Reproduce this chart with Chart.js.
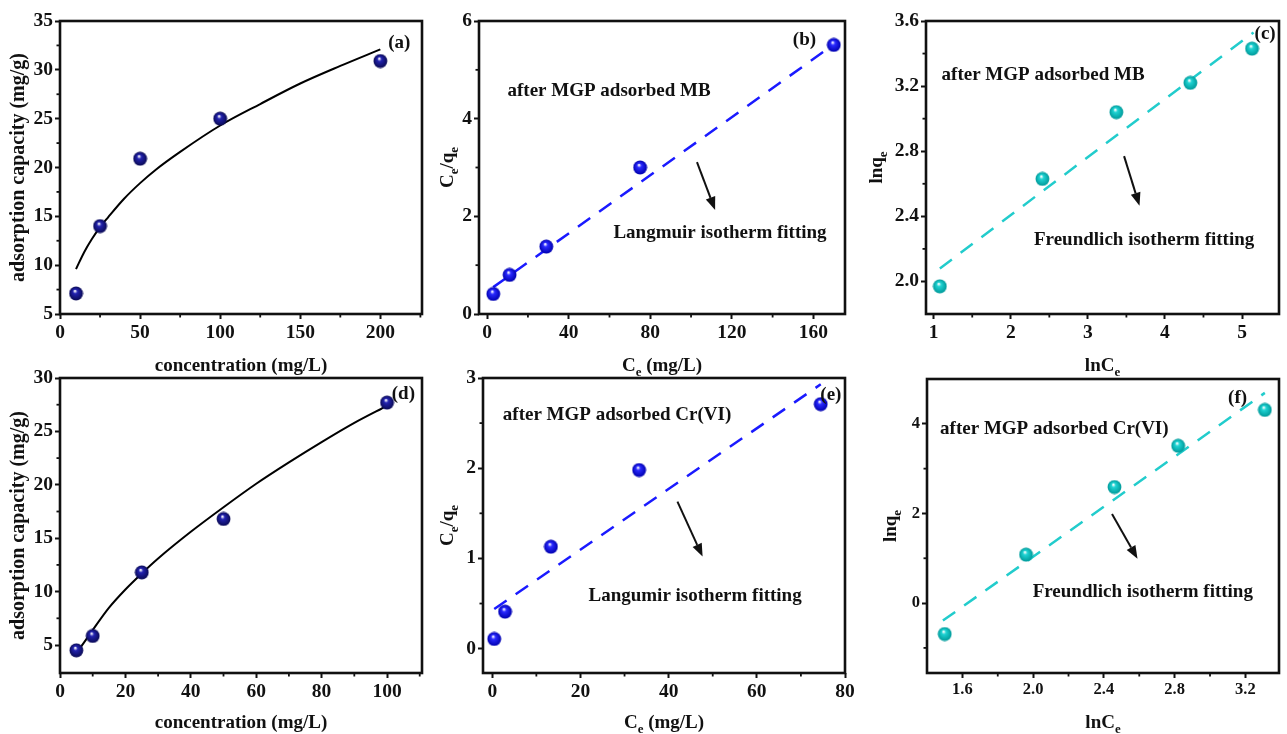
<!DOCTYPE html>
<html>
<head>
<meta charset="utf-8">
<script src="https://cdn.jsdelivr.net/npm/chart.js@4/dist/chart.umd.min.js"></script>
<style>
  html, body { margin: 0; padding: 0; background: #fff; }
  body { width: 1287px; height: 734px; position: relative; overflow: hidden; }
  .panel { position: absolute; }
  canvas { display: block; }
</style>
</head>
<body>
<div class="panel" id="pa"><canvas id="ca"></canvas></div>
<div class="panel" id="pb"><canvas id="cb"></canvas></div>
<div class="panel" id="pc"><canvas id="cc"></canvas></div>
<div class="panel" id="pd"><canvas id="cd"></canvas></div>
<div class="panel" id="pe"><canvas id="ce"></canvas></div>
<div class="panel" id="pf"><canvas id="cf"></canvas></div>
<script>
// ---------------- DATA ----------------
// (a) MB adsorption isotherm
const aConc = [10, 25, 50, 100, 200];
const aQe   = [7.1, 14.0, 20.9, 25.0, 30.9];
const aFitX = [10, 15, 20, 25, 30, 40, 50, 60, 75, 100, 125, 150, 175, 200];
const aFitY = [9.6, 11.3, 12.7, 13.9, 14.9, 16.8, 18.4, 19.8, 21.6, 24.3, 26.5, 28.6, 30.4, 32.1];
const aXTicks = [0, 50, 100, 150, 200];
const aXLabels = ['0', '50', '100', '150', '200'];
const aYTicks = [5, 10, 15, 20, 25, 30, 35];
const aYLabels = ['5', '10', '15', '20', '25', '30', '35'];
const aXMinor = [25, 75, 125, 175, 225];
const aYMinor = [7.5, 12.5, 17.5, 22.5, 27.5, 32.5];

// (b) Langmuir MB
const bCe    = [3, 11, 29, 75, 170];
const bRatio = [0.41, 0.80, 1.38, 3.0, 5.51];
const bFitX  = [3, 170];
const bFitY  = [0.55, 5.52];
const bXTicks = [0, 40, 80, 120, 160];
const bXLabels = ['0', '40', '80', '120', '160'];
const bYTicks = [0, 2, 4, 6];
const bYLabels = ['0', '2', '4', '6'];
const bXMinor = [20, 60, 100, 140];
const bYMinor = [1, 3, 5];

// (c) Freundlich MB
const cLnC = [1.08, 2.41, 3.37, 4.33, 5.13];
const cLnQ = [1.97, 2.63, 3.04, 3.22, 3.43];
const cFitX = [1.08, 5.15];
const cFitY = [2.08, 3.53];
const cXTicks = [1, 2, 3, 4, 5];
const cXLabels = ['1', '2', '3', '4', '5'];
const cYTicks = [2.0, 2.4, 2.8, 3.2, 3.6];
const cYLabels = ['2.0', '2.4', '2.8', '3.2', '3.6'];
const cXMinor = [1.5, 2.5, 3.5, 4.5];
const cYMinor = [2.2, 2.6, 3.0, 3.4];

// (d) Cr(VI) adsorption isotherm
const dConc = [5, 10, 25, 50, 100];
const dQe   = [4.5, 5.85, 11.8, 16.8, 27.7];
const dFitX = [5, 10, 15, 20, 25, 30, 40, 50, 60, 70, 80, 90, 100];
const dFitY = [4.2, 6.4, 8.5, 10.2, 11.7, 13.1, 15.6, 17.9, 20.1, 22.1, 24.0, 25.8, 27.4];
const dXTicks = [0, 20, 40, 60, 80, 100];
const dXLabels = ['0', '20', '40', '60', '80', '100'];
const dYTicks = [5, 10, 15, 20, 25, 30];
const dYLabels = ['5', '10', '15', '20', '25', '30'];
const dXMinor = [10, 30, 50, 70, 90, 110];
const dYMinor = [7.5, 12.5, 17.5, 22.5, 27.5];

// (e) Langmuir Cr(VI)
const eCe    = [0.45, 2.9, 13.3, 33.3, 74.5];
const eRatio = [0.107, 0.41, 1.13, 1.98, 2.71];
const eFitX  = [0.45, 74.5];
const eFitY  = [0.44, 2.93];
const eXTicks = [0, 20, 40, 60, 80];
const eXLabels = ['0', '20', '40', '60', '80'];
const eYTicks = [0, 1, 2, 3];
const eYLabels = ['0', '1', '2', '3'];
const eXMinor = [10, 30, 50, 70];
const eYMinor = [0.5, 1.5, 2.5];

// (f) Freundlich Cr(VI)
const fLnC = [1.50, 1.96, 2.46, 2.82, 3.31];
const fLnQ = [-0.69, 1.08, 2.59, 3.51, 4.31];
const fFitX = [1.49, 3.31];
const fFitY = [-0.39, 4.69];
const fXTicks = [1.6, 2.0, 2.4, 2.8, 3.2];
const fXLabels = ['1.6', '2.0', '2.4', '2.8', '3.2'];
const fYTicks = [0, 2, 4];
const fYLabels = ['0', '2', '4'];
const fXMinor = [1.8, 2.2, 2.6, 3.0];
const fYMinor = [-1, 1, 3];

// ---------------- STYLE / LAYOUT ----------------
const FONT = '"Liberation Serif", "Times New Roman", serif';
const INK = '#111';

function ball(color, dark) {
  const s = 15, r = 6.9;
  const c = document.createElement('canvas');
  c.width = s; c.height = s;
  const g = c.getContext('2d');
  const grad = g.createRadialGradient(s / 2 - 1.2, s / 2 - 2.6, 0.4, s / 2, s / 2, r);
  grad.addColorStop(0, '#ffffff');
  grad.addColorStop(0.28, color);
  grad.addColorStop(1, dark);
  g.fillStyle = grad;
  g.beginPath(); g.arc(s / 2, s / 2, r, 0, Math.PI * 2); g.fill();
  return c;
}
const navyBall = ball('#2323b0', '#0a0a55');
const blueBall = ball('#2a2aff', '#0000b0');
const cyanBall = ball('#1fd3d3', '#009a9a');

function drawRich(ctx, str, x, y, size, rot) {
  const parts = [];
  const re = /_\{([^}]*)\}/g;
  let last = 0, m;
  while ((m = re.exec(str)) !== null) {
    if (m.index > last) parts.push({ t: str.slice(last, m.index), sub: false });
    parts.push({ t: m[1], sub: true });
    last = re.lastIndex;
  }
  if (last < str.length) parts.push({ t: str.slice(last), sub: false });
  const subSize = size * 0.68;
  let total = 0;
  parts.forEach(p => {
    ctx.font = 'bold ' + (p.sub ? subSize : size) + 'px ' + FONT;
    p.w = ctx.measureText(p.t).width;
    total += p.w;
  });
  ctx.save();
  ctx.translate(x, y);
  ctx.rotate(rot || 0);
  ctx.fillStyle = INK;
  ctx.textAlign = 'left';
  ctx.textBaseline = 'alphabetic';
  let cx = -total / 2;
  const base = size * 0.33;
  parts.forEach(p => {
    ctx.font = 'bold ' + (p.sub ? subSize : size) + 'px ' + FONT;
    ctx.fillText(p.t, cx, p.sub ? base + size * 0.25 : base);
    cx += p.w;
  });
  ctx.restore();
}

function drawArrow(ctx, x1, y1, x2, y2) {
  const ang = Math.atan2(y2 - y1, x2 - x1);
  const hl = 13, hw = 5;
  const bx = x2 - hl * Math.cos(ang), by = y2 - hl * Math.sin(ang);
  ctx.save();
  ctx.strokeStyle = INK; ctx.fillStyle = INK; ctx.lineWidth = 2;
  ctx.beginPath(); ctx.moveTo(x1, y1); ctx.lineTo(bx, by); ctx.stroke();
  ctx.beginPath();
  ctx.moveTo(x2, y2);
  ctx.lineTo(bx + hw * Math.sin(ang), by - hw * Math.cos(ang));
  ctx.lineTo(bx - hw * Math.sin(ang), by + hw * Math.cos(ang));
  ctx.closePath(); ctx.fill();
  ctx.restore();
}

const decor = {
  id: 'decor',
  afterDraw(chart, args, o) {
    const ctx = chart.ctx, ca = chart.chartArea;
    const xs = chart.scales.x, ys = chart.scales.y;
    ctx.save();
    ctx.strokeStyle = INK;
    ctx.lineWidth = 2.6;
    ctx.strokeRect(ca.left, ca.top, ca.right - ca.left, ca.bottom - ca.top);
    ctx.lineWidth = 1.8;
    (o.minorX || []).forEach(v => {
      const p = xs.getPixelForValue(v);
      if (p < ca.left - 0.5 || p > ca.right + 0.5) return;
      ctx.beginPath(); ctx.moveTo(p, ca.bottom); ctx.lineTo(p, ca.bottom + 3.5); ctx.stroke();
    });
    (o.minorY || []).forEach(v => {
      const p = ys.getPixelForValue(v);
      if (p < ca.top - 0.5 || p > ca.bottom + 0.5) return;
      ctx.beginPath(); ctx.moveTo(ca.left, p); ctx.lineTo(ca.left - 3.5, p); ctx.stroke();
    });
    ctx.restore();
    (o.texts || []).forEach(t => {
      drawRich(ctx, t.text, xs.getPixelForValue(t.x), ys.getPixelForValue(t.y), t.size || 19, 0);
    });
    (o.arrows || []).forEach(a => {
      drawArrow(ctx, xs.getPixelForValue(a[0]), ys.getPixelForValue(a[1]),
                     xs.getPixelForValue(a[2]), ys.getPixelForValue(a[3]));
    });
    drawRich(ctx, o.xTitle, (ca.left + ca.right) / 2, o.xTitleY, 19, 0);
    drawRich(ctx, o.yTitle, o.yTitleX, (ca.top + ca.bottom) / 2, o.yTitleSize || 19, -Math.PI / 2);
  }
};

function axis(min, max, vals, labels, fontSize, fitSize, isX) {
  return {
    type: 'linear', min: min, max: max,
    afterBuildTicks: s => { s.ticks = vals.map(v => ({ value: v })); },
    afterFit: s => { if (isX) s.height = fitSize; else s.width = fitSize; },
    ticks: {
      autoSkip: false, maxRotation: 0, minRotation: 0, padding: 2, color: INK,
      font: { family: FONT, weight: 'bold', size: fontSize },
      callback: (v, i) => labels[i]
    },
    grid: { drawOnChartArea: false, drawTicks: true, tickLength: 5, tickWidth: 2, tickColor: INK },
    border: { display: false },
    title: { display: false }
  };
}

function pts(xs, ys) { return xs.map((x, i) => ({ x: x, y: ys[i] })); }

function makePanel(p) {
  const div = document.getElementById(p.div);
  div.style.left = p.box[0] + 'px'; div.style.top = p.box[1] + 'px';
  div.style.width = p.box[2] + 'px'; div.style.height = p.box[3] + 'px';
  const cv = document.getElementById(p.canvas);
  cv.width = p.box[2]; cv.height = p.box[3];
  const [L, T, R, B] = p.area;
  const padTop = T - p.box[1];
  const padRight = p.box[0] + p.box[2] - R;
  const yW = L - p.box[0];
  const xH = p.box[1] + p.box[3] - B;
  new Chart(cv, {
    type: 'scatter',
    data: {
      datasets: [
        { data: pts(p.px, p.py), pointStyle: p.ball, pointRadius: 7, pointHoverRadius: 7, showLine: false },
        { data: pts(p.fx, p.fy), showLine: true, pointRadius: 0, borderColor: p.lineColor,
          borderWidth: p.lineWidth, borderDash: p.dash, tension: p.tension, cubicInterpolationMode: p.cubic, fill: false }
      ]
    },
    options: {
      responsive: false, animation: false, devicePixelRatio: 1,
      layout: { padding: { left: 0, top: padTop, right: padRight, bottom: 0 } },
      scales: {
        x: axis(p.xr[0], p.xr[1], p.xt, p.xl, p.tickSize, xH, true),
        y: axis(p.yr[0], p.yr[1], p.yt, p.yl, p.tickSize, yW, false)
      },
      plugins: {
        legend: { display: false }, tooltip: { enabled: false },
        decor: {
          minorX: p.mx, minorY: p.my, texts: p.texts, arrows: p.arrows,
          xTitle: p.xTitle, xTitleY: p.xTitleY - p.box[1], yTitle: p.yTitle, yTitleX: p.yTitleX - p.box[0],
          yTitleSize: p.yTitleSize
        }
      }
    },
    plugins: [decor]
  });
}

const panels = [
  { div: 'pa', canvas: 'ca', box: [0, 0, 430, 382], area: [60, 21, 423, 314],
    px: aConc, py: aQe, fx: aFitX, fy: aFitY, ball: navyBall, lineColor: '#000', lineWidth: 2, dash: [], tension: 0, cubic: 'monotone',
    xr: [0, 226], yr: [5, 35], xt: aXTicks, xl: aXLabels, yt: aYTicks, yl: aYLabels, mx: aXMinor, my: aYMinor, tickSize: 19.5,
    texts: [{ text: '(a)', x: 211.8, y: 32.85 }], arrows: [],
    xTitle: 'concentration (mg/L)', xTitleY: 365, yTitle: 'adsorption capacity (mg/g)', yTitleX: 17, yTitleSize: 20 },
  { div: 'pb', canvas: 'cb', box: [430, 0, 430, 382], area: [479, 21, 845, 314],
    px: bCe, py: bRatio, fx: bFitX, fy: bFitY, ball: blueBall, lineColor: '#1a1aff', lineWidth: 2.5, dash: [15, 11], tension: 0, cubic: 'default',
    xr: [-4, 175.5], yr: [0, 6], xt: bXTicks, xl: bXLabels, yt: bYTicks, yl: bYLabels, mx: bXMinor, my: bYMinor, tickSize: 19.5,
    texts: [{ text: '(b)', x: 155.6, y: 5.63 }, { text: 'after MGP adsorbed MB', x: 59.8, y: 4.59 },
            { text: 'Langmuir isotherm fitting', x: 114.2, y: 1.68 }],
    arrows: [[102.9, 3.11, 111.8, 2.13]],
    xTitle: 'C_{e} (mg/L)', xTitleY: 365, yTitle: 'C_{e}/q_{e}', yTitleX: 447 },
  { div: 'pc', canvas: 'cc', box: [860, 0, 427, 382], area: [926, 21, 1285, 314],
    px: cLnC, py: cLnQ, fx: cFitX, fy: cFitY, ball: cyanBall, lineColor: '#22cccc', lineWidth: 2.5, dash: [15, 11], tension: 0, cubic: 'default',
    xr: [0.9, 5.48], yr: [1.8, 3.6], xt: cXTicks, xl: cXLabels, yt: cYTicks, yl: cYLabels, mx: cXMinor, my: cYMinor, tickSize: 19.5,
    texts: [{ text: '(c)', x: 5.30, y: 3.53 }, { text: 'after MGP adsorbed MB', x: 2.42, y: 3.275 },
            { text: 'Freundlich isotherm fitting', x: 3.73, y: 2.26 }],
    arrows: [[3.47, 2.77, 3.67, 2.465]],
    xTitle: 'lnC_{e}', xTitleY: 365, yTitle: 'lnq_{e}', yTitleX: 876 },
  { div: 'pd', canvas: 'cd', box: [0, 358, 430, 376], area: [60, 378, 423, 673],
    px: dConc, py: dQe, fx: dFitX, fy: dFitY, ball: navyBall, lineColor: '#000', lineWidth: 2, dash: [], tension: 0, cubic: 'monotone',
    xr: [0, 110.7], yr: [2.38, 30], xt: dXTicks, xl: dXLabels, yt: dYTicks, yl: dYLabels, mx: dXMinor, my: dYMinor, tickSize: 19.5,
    texts: [{ text: '(d)', x: 105, y: 28.6 }], arrows: [],
    xTitle: 'concentration (mg/L)', xTitleY: 722, yTitle: 'adsorption capacity (mg/g)', yTitleX: 17, yTitleSize: 20 },
  { div: 'pe', canvas: 'ce', box: [430, 358, 430, 376], area: [483, 378, 845, 673],
    px: eCe, py: eRatio, fx: eFitX, fy: eFitY, ball: blueBall, lineColor: '#1a1aff', lineWidth: 2.5, dash: [15, 11], tension: 0, cubic: 'default',
    xr: [-2.1, 80], yr: [-0.27, 3], xt: eXTicks, xl: eXLabels, yt: eYTicks, yl: eYLabels, mx: eXMinor, my: eYMinor, tickSize: 19.5,
    texts: [{ text: '(e)', x: 76.8, y: 2.83 }, { text: 'after MGP adsorbed Cr(VI)', x: 28.3, y: 2.60 },
            { text: 'Langumir isotherm fitting', x: 46.0, y: 0.60 }],
    arrows: [[42.0, 1.63, 47.7, 1.02]],
    xTitle: 'C_{e} (mg/L)', xTitleY: 722, yTitle: 'C_{e}/q_{e}', yTitleX: 447 },
  { div: 'pf', canvas: 'cf', box: [860, 358, 427, 376], area: [927, 379, 1285, 673],
    px: fLnC, py: fLnQ, fx: fFitX, fy: fFitY, ball: cyanBall, lineColor: '#22cccc', lineWidth: 2.5, dash: [15, 11], tension: 0, cubic: 'default',
    xr: [1.4, 3.39], yr: [-1.56, 5.0], xt: fXTicks, xl: fXLabels, yt: fYTicks, yl: fYLabels, mx: fXMinor, my: fYMinor, tickSize: 16.5,
    texts: [{ text: '(f)', x: 3.156, y: 4.60 }, { text: 'after MGP adsorbed Cr(VI)', x: 2.12, y: 3.91 },
            { text: 'Freundlich isotherm fitting', x: 2.62, y: 0.27 }],
    arrows: [[2.446, 1.99, 2.59, 0.99]],
    xTitle: 'lnC_{e}', xTitleY: 722, yTitle: 'lnq_{e}', yTitleX: 890 }
];

panels.forEach(makePanel);
</script>
</body>
</html>
